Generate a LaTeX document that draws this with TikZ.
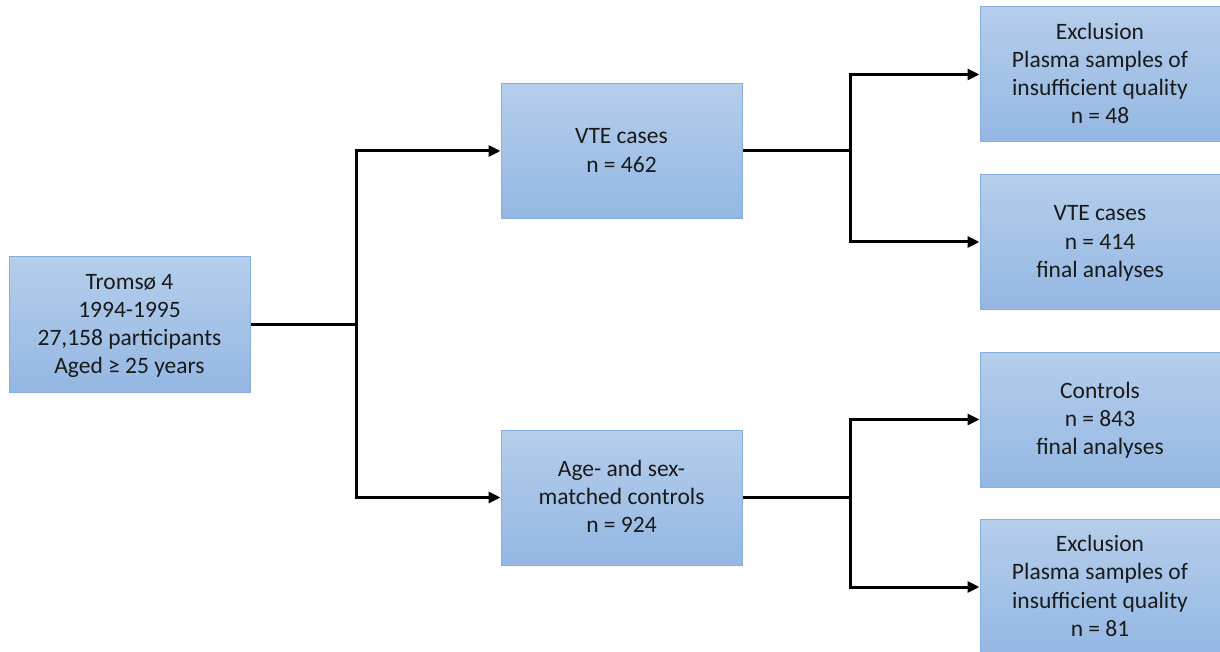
\documentclass[tikz,border=0pt]{standalone}
\usepackage{fontspec}
\setmainfont{Carlito}
\usetikzlibrary{arrows.meta}
\definecolor{boxtop}{HTML}{B5CEEB}
\definecolor{boxbot}{HTML}{93B7E3}
\definecolor{boxline}{HTML}{88AEDF}
\definecolor{txt}{HTML}{1A1A1A}
\newcommand\ls{\rule[-5pt]{0pt}{24pt}}
\tikzset{
  flowbox/.style={draw=boxline, line width=1pt, top color=boxtop, bottom color=boxbot,
    minimum width=241pt, minimum height=135pt, inner sep=0pt, align=center,
    text=txt, font=\fontsize{23.5}{28.3}\selectfont},
  conn/.style={line width=3pt, black},
  arr/.style={conn, -{Triangle[length=12pt,width=11pt]}}
}
\begin{document}
\begin{tikzpicture}[x=1pt,y=-1pt]
\useasboundingbox (0,0) rectangle (1220,652);
\node[flowbox] (tromso) at (129.5,324.5) {\ls Tromsø 4\\\ls 1994-1995\\\ls 27,158 participants\\\ls Aged ≥ 25 years};
\node[flowbox] (vte) at (621.5,151) {\ls VTE cases\\\ls n = 462};
\node[flowbox] (age) at (621.5,497.5) {\ls Age- and sex-\\\ls matched controls\\\ls n = 924};
\node[flowbox, minimum width=240pt] (ex1) at (1100,74.5) {\ls Exclusion\\\ls Plasma samples of\\\ls insufficient quality\\\ls n = 48};
\node[flowbox, minimum width=240pt] (vte2) at (1100,242) {\ls VTE cases\\\ls n = 414\\\ls final analyses};
\node[flowbox, minimum width=240pt] (ctrl) at (1100,419.5) {\ls Controls\\\ls n = 843\\\ls final analyses};
\node[flowbox, minimum width=240pt] (ex2) at (1100,587) {\ls Exclusion\\\ls Plasma samples of\\\ls insufficient quality\\\ls n = 81};
\coordinate (j1) at (356,324.5);
\coordinate (j2) at (850,151);
\coordinate (j3) at (850,497.5);
\draw[conn] (tromso.east) -- (j1);
\draw[arr] (j1) |- (vte.west);
\draw[arr] (j1) |- (age.west);
\draw[conn] (vte.east) -- (j2);
\draw[arr] (j2) |- (ex1.west);
\draw[arr] (j2) |- (vte2.west);
\draw[conn] (age.east) -- (j3);
\draw[arr] (j3) |- (ctrl.west);
\draw[arr] (j3) |- (ex2.west);
\end{tikzpicture}
\end{document}
